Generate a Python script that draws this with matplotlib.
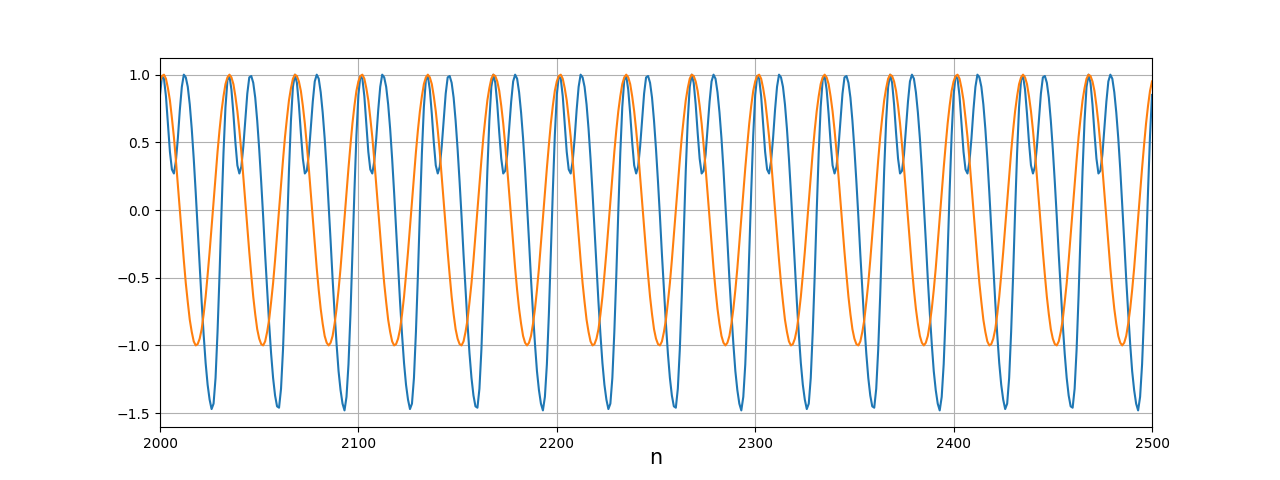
import numpy as np
import matplotlib
matplotlib.use("Agg")
import matplotlib.pyplot as plt

# sample index on the x axis
n = np.arange(2000, 2501)

# blue trace, one value per sample
y_blue = [
    0.85, 0.99, 0.97, 0.84, 0.64, 0.43, 0.30, 0.27, 0.36, 0.53, 0.74, 0.91, 1.00, 0.98, 0.91, 0.78, 0.60, 0.38, 0.13, -0.14, -0.42, -0.68, -0.92, -1.13, -1.29, -1.40, -1.47, -1.43, -1.24, -0.90, -0.48, -0.01, 0.42, 0.76, 0.96,
    0.99, 0.89, 0.71, 0.50, 0.33, 0.27, 0.32, 0.47, 0.67, 0.86, 0.98, 0.99, 0.94, 0.83, 0.66, 0.45, 0.21, -0.05, -0.33, -0.59, -0.84, -1.06, -1.24, -1.37, -1.45, -1.46, -1.32, -1.03, -0.63, -0.17, 0.29, 0.66, 0.91, 1.00,
    0.94, 0.78, 0.57, 0.38, 0.27, 0.29, 0.41, 0.60, 0.80, 0.95, 1.00, 0.97, 0.87, 0.72, 0.53, 0.30, 0.04, -0.23, -0.51, -0.76, -0.99, -1.19, -1.33, -1.43, -1.48, -1.38, -1.14, -0.77, -0.32, 0.14, 0.55,
    0.85, 0.99, 0.97, 0.84, 0.64, 0.43, 0.30, 0.27, 0.36, 0.53, 0.74, 0.91, 1.00, 0.98, 0.91, 0.78, 0.60, 0.38, 0.13, -0.14, -0.42, -0.68, -0.92, -1.13, -1.29, -1.40, -1.47, -1.43, -1.24, -0.90, -0.48, -0.01, 0.42, 0.76, 0.96,
    0.99, 0.89, 0.71, 0.50, 0.33, 0.27, 0.32, 0.47, 0.67, 0.86, 0.98, 0.99, 0.94, 0.83, 0.66, 0.45, 0.21, -0.05, -0.33, -0.59, -0.84, -1.06, -1.24, -1.37, -1.45, -1.46, -1.32, -1.03, -0.63, -0.17, 0.29, 0.66, 0.91, 1.00,
    0.94, 0.78, 0.57, 0.38, 0.27, 0.29, 0.41, 0.60, 0.80, 0.95, 1.00, 0.97, 0.87, 0.72, 0.53, 0.30, 0.04, -0.23, -0.51, -0.76, -0.99, -1.19, -1.33, -1.43, -1.48, -1.38, -1.14, -0.77, -0.32, 0.14, 0.55,
    0.85, 0.99, 0.97, 0.84, 0.64, 0.43, 0.30, 0.27, 0.36, 0.53, 0.74, 0.91, 1.00, 0.98, 0.91, 0.78, 0.60, 0.38, 0.13, -0.14, -0.42, -0.68, -0.92, -1.13, -1.29, -1.40, -1.47, -1.43, -1.24, -0.90, -0.48, -0.01, 0.42, 0.76, 0.96,
    0.99, 0.89, 0.71, 0.50, 0.33, 0.27, 0.32, 0.47, 0.67, 0.86, 0.98, 0.99, 0.94, 0.83, 0.66, 0.45, 0.21, -0.05, -0.33, -0.59, -0.84, -1.06, -1.24, -1.37, -1.45, -1.46, -1.32, -1.03, -0.63, -0.17, 0.29, 0.66, 0.91, 1.00,
    0.94, 0.78, 0.57, 0.38, 0.27, 0.29, 0.41, 0.60, 0.80, 0.95, 1.00, 0.97, 0.87, 0.72, 0.53, 0.30, 0.04, -0.23, -0.51, -0.76, -0.99, -1.19, -1.33, -1.43, -1.48, -1.38, -1.14, -0.77, -0.32, 0.14, 0.55,
    0.85, 0.99, 0.97, 0.84, 0.64, 0.43, 0.30, 0.27, 0.36, 0.53, 0.74, 0.91, 1.00, 0.98, 0.91, 0.78, 0.60, 0.38, 0.13, -0.14, -0.42, -0.68, -0.92, -1.13, -1.29, -1.40, -1.47, -1.43, -1.24, -0.90, -0.48, -0.01, 0.42, 0.76, 0.96,
    0.99, 0.89, 0.71, 0.50, 0.33, 0.27, 0.32, 0.47, 0.67, 0.86, 0.98, 0.99, 0.94, 0.83, 0.66, 0.45, 0.21, -0.05, -0.33, -0.59, -0.84, -1.06, -1.24, -1.37, -1.45, -1.46, -1.32, -1.03, -0.63, -0.17, 0.29, 0.66, 0.91, 1.00,
    0.94, 0.78, 0.57, 0.38, 0.27, 0.29, 0.41, 0.60, 0.80, 0.95, 1.00, 0.97, 0.87, 0.72, 0.53, 0.30, 0.04, -0.23, -0.51, -0.76, -0.99, -1.19, -1.33, -1.43, -1.48, -1.38, -1.14, -0.77, -0.32, 0.14, 0.55,
    0.85, 0.99, 0.97, 0.84, 0.64, 0.43, 0.30, 0.27, 0.36, 0.53, 0.74, 0.91, 1.00, 0.98, 0.91, 0.78, 0.60, 0.38, 0.13, -0.14, -0.42, -0.68, -0.92, -1.13, -1.29, -1.40, -1.47, -1.43, -1.24, -0.90, -0.48, -0.01, 0.42, 0.76, 0.96,
    0.99, 0.89, 0.71, 0.50, 0.33, 0.27, 0.32, 0.47, 0.67, 0.86, 0.98, 0.99, 0.94, 0.83, 0.66, 0.45, 0.21, -0.05, -0.33, -0.59, -0.84, -1.06, -1.24, -1.37, -1.45, -1.46, -1.32, -1.03, -0.63, -0.17, 0.29, 0.66, 0.91, 1.00,
    0.94, 0.78, 0.57, 0.38, 0.27, 0.29, 0.41, 0.60, 0.80, 0.95, 1.00, 0.97, 0.87, 0.72, 0.53, 0.30, 0.04, -0.23, -0.51, -0.76, -0.99, -1.19, -1.33, -1.43, -1.48, -1.38, -1.14, -0.77, -0.32, 0.14, 0.55,
    0.85,
]

# orange trace (plain cosine-looking reference)
y_orange = [
    0.95, 0.99, 1.00, 0.97, 0.90, 0.81, 0.68, 0.54, 0.37, 0.19, 0.00, -0.19, -0.37, -0.54, -0.68, -0.81, -0.90, -0.97, -1.00, -0.99, -0.95, -0.88, -0.77, -0.64, -0.48, -0.31, -0.13, 0.06, 0.25, 0.43, 0.59, 0.73, 0.84, 0.93, 0.98,
    1.00, 0.98, 0.93, 0.84, 0.73, 0.59, 0.43, 0.25, 0.06, -0.13, -0.31, -0.48, -0.64, -0.77, -0.88, -0.95, -0.99, -1.00, -0.97, -0.90, -0.81, -0.68, -0.54, -0.37, -0.19, 0.00, 0.19, 0.37, 0.54, 0.68, 0.81, 0.90, 0.97, 1.00,
    0.99, 0.95, 0.88, 0.77, 0.64, 0.48, 0.31, 0.13, -0.06, -0.25, -0.43, -0.59, -0.73, -0.84, -0.93, -0.98, -1.00, -0.98, -0.93, -0.84, -0.73, -0.59, -0.43, -0.25, -0.06, 0.13, 0.31, 0.48, 0.64, 0.77, 0.88,
    0.95, 0.99, 1.00, 0.97, 0.90, 0.81, 0.68, 0.54, 0.37, 0.19, 0.00, -0.19, -0.37, -0.54, -0.68, -0.81, -0.90, -0.97, -1.00, -0.99, -0.95, -0.88, -0.77, -0.64, -0.48, -0.31, -0.13, 0.06, 0.25, 0.43, 0.59, 0.73, 0.84, 0.93, 0.98,
    1.00, 0.98, 0.93, 0.84, 0.73, 0.59, 0.43, 0.25, 0.06, -0.13, -0.31, -0.48, -0.64, -0.77, -0.88, -0.95, -0.99, -1.00, -0.97, -0.90, -0.81, -0.68, -0.54, -0.37, -0.19, 0.00, 0.19, 0.37, 0.54, 0.68, 0.81, 0.90, 0.97, 1.00,
    0.99, 0.95, 0.88, 0.77, 0.64, 0.48, 0.31, 0.13, -0.06, -0.25, -0.43, -0.59, -0.73, -0.84, -0.93, -0.98, -1.00, -0.98, -0.93, -0.84, -0.73, -0.59, -0.43, -0.25, -0.06, 0.13, 0.31, 0.48, 0.64, 0.77, 0.88,
    0.95, 0.99, 1.00, 0.97, 0.90, 0.81, 0.68, 0.54, 0.37, 0.19, 0.00, -0.19, -0.37, -0.54, -0.68, -0.81, -0.90, -0.97, -1.00, -0.99, -0.95, -0.88, -0.77, -0.64, -0.48, -0.31, -0.13, 0.06, 0.25, 0.43, 0.59, 0.73, 0.84, 0.93, 0.98,
    1.00, 0.98, 0.93, 0.84, 0.73, 0.59, 0.43, 0.25, 0.06, -0.13, -0.31, -0.48, -0.64, -0.77, -0.88, -0.95, -0.99, -1.00, -0.97, -0.90, -0.81, -0.68, -0.54, -0.37, -0.19, 0.00, 0.19, 0.37, 0.54, 0.68, 0.81, 0.90, 0.97, 1.00,
    0.99, 0.95, 0.88, 0.77, 0.64, 0.48, 0.31, 0.13, -0.06, -0.25, -0.43, -0.59, -0.73, -0.84, -0.93, -0.98, -1.00, -0.98, -0.93, -0.84, -0.73, -0.59, -0.43, -0.25, -0.06, 0.13, 0.31, 0.48, 0.64, 0.77, 0.88,
    0.95, 0.99, 1.00, 0.97, 0.90, 0.81, 0.68, 0.54, 0.37, 0.19, 0.00, -0.19, -0.37, -0.54, -0.68, -0.81, -0.90, -0.97, -1.00, -0.99, -0.95, -0.88, -0.77, -0.64, -0.48, -0.31, -0.13, 0.06, 0.25, 0.43, 0.59, 0.73, 0.84, 0.93, 0.98,
    1.00, 0.98, 0.93, 0.84, 0.73, 0.59, 0.43, 0.25, 0.06, -0.13, -0.31, -0.48, -0.64, -0.77, -0.88, -0.95, -0.99, -1.00, -0.97, -0.90, -0.81, -0.68, -0.54, -0.37, -0.19, 0.00, 0.19, 0.37, 0.54, 0.68, 0.81, 0.90, 0.97, 1.00,
    0.99, 0.95, 0.88, 0.77, 0.64, 0.48, 0.31, 0.13, -0.06, -0.25, -0.43, -0.59, -0.73, -0.84, -0.93, -0.98, -1.00, -0.98, -0.93, -0.84, -0.73, -0.59, -0.43, -0.25, -0.06, 0.13, 0.31, 0.48, 0.64, 0.77, 0.88,
    0.95, 0.99, 1.00, 0.97, 0.90, 0.81, 0.68, 0.54, 0.37, 0.19, 0.00, -0.19, -0.37, -0.54, -0.68, -0.81, -0.90, -0.97, -1.00, -0.99, -0.95, -0.88, -0.77, -0.64, -0.48, -0.31, -0.13, 0.06, 0.25, 0.43, 0.59, 0.73, 0.84, 0.93, 0.98,
    1.00, 0.98, 0.93, 0.84, 0.73, 0.59, 0.43, 0.25, 0.06, -0.13, -0.31, -0.48, -0.64, -0.77, -0.88, -0.95, -0.99, -1.00, -0.97, -0.90, -0.81, -0.68, -0.54, -0.37, -0.19, 0.00, 0.19, 0.37, 0.54, 0.68, 0.81, 0.90, 0.97, 1.00,
    0.99, 0.95, 0.88, 0.77, 0.64, 0.48, 0.31, 0.13, -0.06, -0.25, -0.43, -0.59, -0.73, -0.84, -0.93, -0.98, -1.00, -0.98, -0.93, -0.84, -0.73, -0.59, -0.43, -0.25, -0.06, 0.13, 0.31, 0.48, 0.64, 0.77, 0.88,
    0.95,
]

fig = plt.figure(figsize=(12.8, 4.8), dpi=100)
plt.plot(n, y_blue)
plt.plot(n, y_orange)
plt.xlim(2000, 2500)
plt.ylim(-1.604, 1.126)
plt.xlabel("n", fontsize=15, labelpad=-2)
plt.grid(True)

plt.savefig("out.png")
